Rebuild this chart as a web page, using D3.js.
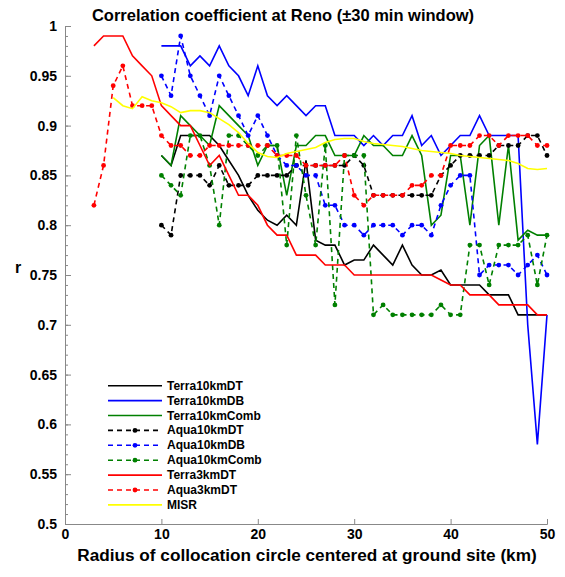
<!DOCTYPE html>
<html><head><meta charset="utf-8">
<script src="https://cdn.jsdelivr.net/npm/d3@7"></script>
<style>
body{margin:0;background:#fff;}
text{font-family:"Liberation Sans",Arial,sans-serif;}
</style></head>
<body><svg id="c" width="565" height="577"></svg>
<script>
const titleText = "Correlation coefficient at Reno (\u00B130 min window)";
const xTitle = "Radius of collocation circle centered at ground site (km)";
const yTitle = "r";
const xTicks = [0,10,20,30,40,50];
const yTicks = [0.5,0.55,0.6,0.65,0.7,0.75,0.8,0.85,0.9,0.95,1];
const yTickLabels = ["0.5","0.55","0.6","0.65","0.7","0.75","0.8","0.85","0.9","0.95","1"];

const km10 = [10,11,12,13,14,15,16,17,18,19,20,21,22,23,24,25,26,27,28,29,30,31,32,33,34,35,36,37,38,39,40,41,42,43,44,45,46,47,48,49,50];
const km3 = [3,4,5,6,7,8,9,10,11,12,13,14,15,16,17,18,19,20,21,22,23,24,25,26,27,28,29,30,31,32,33,34,35,36,37,38,39,40,41,42,43,44,45,46,47,48,49,50];
const kmMISR = [5,6,7,8,9,10,11,12,13,14,15,16,17,18,19,20,21,22,23,24,25,26,27,28,29,30,31,32,33,34,35,36,37,38,39,40,41,42,43,44,45,46,47,48,49,50];

const terra10kmDT = [0.87,0.86,0.89,0.89,0.89,0.89,0.88,0.865,0.85,0.83,0.815,0.805,0.80,0.81,0.80,0.865,0.785,0.78,0.78,0.76,0.765,0.765,0.78,0.77,0.76,0.78,0.76,0.75,0.75,0.755,0.74,0.74,0.74,0.74,0.73,0.73,0.73,0.71,0.71,0.71,0.71];
const terra10kmDB = [0.98,0.98,0.98,0.96,0.97,0.96,0.98,0.96,0.95,0.93,0.96,0.93,0.92,0.93,0.92,0.91,0.92,0.92,0.89,0.89,0.89,0.88,0.89,0.88,0.89,0.89,0.91,0.88,0.89,0.87,0.88,0.89,0.89,0.91,0.89,0.89,0.89,0.89,0.70,0.58,0.71];
const terra10kmComb = [0.87,0.86,0.91,0.90,0.89,0.88,0.92,0.91,0.90,0.89,0.86,0.88,0.88,0.83,0.88,0.88,0.89,0.89,0.87,0.87,0.87,0.89,0.88,0.88,0.87,0.87,0.89,0.87,0.80,0.81,0.87,0.87,0.80,0.88,0.89,0.80,0.88,0.785,0.795,0.79,0.79];
const aqua10kmDT = [0.80,0.79,0.85,0.85,0.85,0.84,0.86,0.84,0.84,0.84,0.85,0.85,0.85,0.85,0.86,0.86,0.86,0.86,0.86,0.86,0.87,0.86,0.83,0.83,0.83,0.83,0.83,0.83,0.83,0.85,0.86,0.87,0.87,0.87,0.87,0.88,0.88,0.88,0.89,0.89,0.87];
const aqua10kmDB = [0.95,0.93,0.99,0.95,0.93,0.91,0.95,0.93,0.91,0.89,0.91,0.89,0.87,0.86,0.86,0.85,0.85,0.82,0.82,0.80,0.80,0.79,0.80,0.80,0.80,0.79,0.80,0.80,0.79,0.82,0.84,0.85,0.85,0.75,0.76,0.76,0.76,0.75,0.76,0.77,0.75];
const aqua10kmComb = [0.85,0.84,0.83,0.89,0.89,0.86,0.80,0.89,0.89,0.88,0.87,0.88,0.88,0.78,0.89,0.83,0.78,0.88,0.72,0.87,0.87,0.87,0.71,0.72,0.71,0.71,0.71,0.71,0.71,0.72,0.71,0.71,0.78,0.78,0.74,0.78,0.78,0.78,0.79,0.74,0.79];
const terra3kmDT = [0.98,0.99,0.99,0.99,0.97,0.96,0.95,0.92,0.91,0.90,0.90,0.88,0.86,0.87,0.85,0.83,0.83,0.82,0.80,0.79,0.79,0.77,0.77,0.77,0.76,0.76,0.76,0.75,0.75,0.75,0.75,0.75,0.75,0.75,0.75,0.75,0.745,0.74,0.74,0.73,0.73,0.73,0.72,0.72,0.72,0.72,0.71,0.71];
const aqua3kmDT = [0.82,0.86,0.94,0.96,0.92,0.92,0.92,0.89,0.88,0.88,0.87,0.87,0.88,0.88,0.88,0.88,0.88,0.88,0.88,0.87,0.87,0.87,0.86,0.86,0.86,0.86,0.87,0.83,0.82,0.83,0.83,0.83,0.83,0.84,0.84,0.85,0.85,0.88,0.88,0.88,0.89,0.89,0.88,0.89,0.89,0.89,0.88,0.88];
const misr = [0.928,0.92,0.917,0.929,0.925,0.923,0.919,0.913,0.915,0.915,0.913,0.907,0.901,0.893,0.882,0.873,0.869,0.868,0.872,0.874,0.876,0.878,0.883,0.886,0.887,0.887,0.884,0.882,0.881,0.88,0.879,0.877,0.875,0.874,0.873,0.872,0.87,0.869,0.868,0.867,0.866,0.865,0.862,0.857,0.856,0.857];

const seriesNames = ["Terra10kmDT","Terra10kmDB","Terra10kmComb","Aqua10kmDT","Aqua10kmDB","Aqua10kmComb","Terra3kmDT","Aqua3kmDT","MISR"];
const seriesColors = ["#000000","#0000ff","#008000","#000000","#0000ff","#008000","#ff0000","#ff0000","#ffff00"];
const seriesDashed = [false,false,false,true,true,true,false,true,false];
const seriesX = [km10,km10,km10,km10,km10,km10,km3,km3,kmMISR];
const seriesY = [terra10kmDT,terra10kmDB,terra10kmComb,aqua10kmDT,aqua10kmDB,aqua10kmComb,terra3kmDT,aqua3kmDT,misr];

const svg = d3.select("#c");
const L=65,R=547,T=26,B=524;
const x = d3.scaleLinear().domain([0,50]).range([L,R]);
const y = d3.scaleLinear().domain([0.5,1]).range([B,T]);

// minor y ticks
const minor = d3.range(50,101).map(v=>v/100);
svg.append("g").attr("transform",`translate(${L},0)`)
  .call(d3.axisLeft(y).tickValues(minor).tickSize(-3).tickFormat(""))
  .call(g=>g.select(".domain").remove())
  .call(g=>g.selectAll("line").attr("stroke","#888"));

const ya = svg.append("g").attr("transform",`translate(${L},0)`)
  .call(d3.axisLeft(y).tickValues(yTicks).tickSize(-6).tickPadding(8).tickFormat((d,i)=>yTickLabels[i]));
ya.select(".domain").attr("stroke","#888");
ya.selectAll("line").attr("stroke","#888");
ya.selectAll("text").attr("font-size",14).attr("font-weight","bold").attr("fill","#000");

const xa = svg.append("g").attr("transform",`translate(0,${B})`)
  .call(d3.axisBottom(x).tickValues(xTicks).tickSize(-5).tickPadding(5));
xa.select(".domain").attr("stroke","#888");
xa.selectAll("line").attr("stroke","#888");
xa.selectAll("text").attr("font-size",14).attr("font-weight","bold").attr("fill","#000");

const line = d3.line();
seriesNames.forEach((n,i)=>{
  const pts = seriesX[i].map((k,j)=>[x(k),y(seriesY[i][j])]);
  svg.append("path").attr("d",line(pts)).attr("fill","none")
    .attr("stroke",seriesColors[i]).attr("stroke-width",1.6)
    .attr("stroke-dasharray",seriesDashed[i]?"5,4":null);
  if(seriesDashed[i]){
    svg.append("g").selectAll("circle").data(pts).join("circle")
      .attr("cx",d=>d[0]).attr("cy",d=>d[1]).attr("r",2.4).attr("fill",seriesColors[i]);
  }
});

// legend
const lg = svg.append("g");
seriesNames.forEach((n,i)=>{
  const yy = 385.7 + i*14.9;
  lg.append("line").attr("x1",108).attr("x2",162).attr("y1",yy).attr("y2",yy)
    .attr("stroke",seriesColors[i]).attr("stroke-width",1.6)
    .attr("stroke-dasharray",seriesDashed[i]?"5,4":null);
  if(seriesDashed[i]) lg.append("circle").attr("cx",135).attr("cy",yy).attr("r",2.4).attr("fill",seriesColors[i]);
  lg.append("text").attr("x",167).attr("y",yy+4).attr("font-size",12).attr("font-weight","bold").text(n);
});

svg.append("text").attr("x",283).attr("y",21).attr("text-anchor","middle")
  .attr("font-size",16.5).attr("font-weight","bold").text(titleText);
svg.append("text").attr("x",307).attr("y",561).attr("text-anchor","middle")
  .attr("font-size",17.2).attr("font-weight","bold").text(xTitle);
svg.append("text").attr("x",18).attr("y",273).attr("text-anchor","middle")
  .attr("font-size",16).attr("font-weight","bold").text(yTitle);
</script></body></html>
